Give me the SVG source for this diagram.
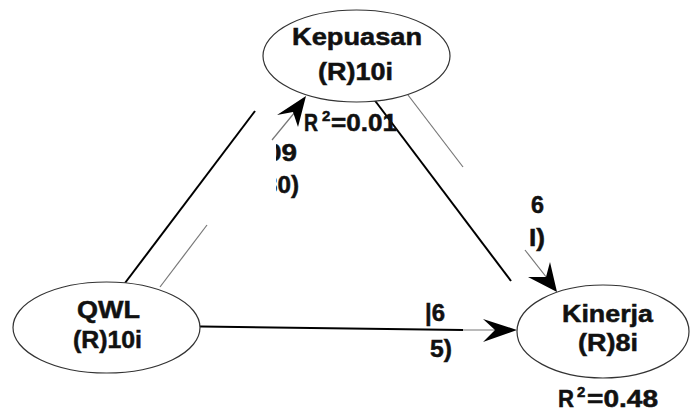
<svg xmlns="http://www.w3.org/2000/svg" width="690" height="412" viewBox="0 0 690 412">
<style>
.node{fill:#fff;stroke:#333;stroke-width:1.2}
.t{font-family:"Liberation Sans",Arial,sans-serif;font-weight:bold;font-size:24px;fill:#111;stroke:#111;stroke-width:0.5}
.sup{font-size:15px}
.blk{stroke:#000;stroke-width:2;fill:none}
.gry{stroke:#777;stroke-width:1.2;fill:none}
.ah{fill:#000;stroke:none}
</style>
<defs>
<clipPath id="c1"><rect x="276" y="130" width="40" height="80"/></clipPath>
</defs>
<rect width="690" height="412" fill="#fff"/>
<g id="connectors">
<line class="gry" x1="160" y1="287" x2="207" y2="225"/>
<line class="gry" x1="272" y1="140" x2="295" y2="112"/>
<polygon class="ah" points="306,96 277,115 293,112 298,127"/>
<line class="gry" x1="408" y1="95" x2="463" y2="167"/>
<line class="gry" x1="525" y1="250" x2="547" y2="278"/>
<polygon class="ah" points="557,292 528,277 546,277 550,262"/>
<line class="gry" x1="463" y1="330" x2="496" y2="330"/>
<polygon class="ah" points="517,330 483,319 495,330 483,342"/>
<line class="blk" x1="125" y1="283" x2="255" y2="111"/>
<line class="blk" x1="373" y1="98" x2="511" y2="281"/>
<line class="blk" x1="165" y1="326" x2="463" y2="330"/>
</g>
<g id="kepuasan">
<ellipse class="node" cx="356.5" cy="56" rx="93.5" ry="46"/>
<text class="t" x="292" y="45" textLength="130" lengthAdjust="spacingAndGlyphs">Kepuasan</text>
<text class="t" x="318" y="80" textLength="75" lengthAdjust="spacingAndGlyphs">(R)10i</text>
</g>
<g id="qwl">
<ellipse class="node" cx="106.5" cy="327.5" rx="93.5" ry="45.5"/>
<text class="t" x="77" y="318" textLength="63" lengthAdjust="spacingAndGlyphs">QWL</text>
<text class="t" x="73" y="348" textLength="69" lengthAdjust="spacingAndGlyphs">(R)10i</text>
</g>
<g id="kinerja">
<ellipse class="node" cx="603" cy="331.5" rx="86" ry="46.5"/>
<text class="t" x="562" y="322" textLength="91" lengthAdjust="spacingAndGlyphs">Kinerja</text>
<text class="t" x="578" y="351" textLength="60" lengthAdjust="spacingAndGlyphs">(R)8i</text>
</g>
<g id="labels">
<text class="t" y="131"><tspan x="304" textLength="14" lengthAdjust="spacingAndGlyphs">R</tspan><tspan class="sup" x="322" dy="-10">2</tspan><tspan x="331" dy="10" textLength="66" lengthAdjust="spacingAndGlyphs">=0.01</tspan></text>
<text class="t" y="407"><tspan x="558" textLength="16" lengthAdjust="spacingAndGlyphs">R</tspan><tspan class="sup" x="577" dy="-10">2</tspan><tspan x="587" dy="10" textLength="71" lengthAdjust="spacingAndGlyphs">=0.48</tspan></text>
<g clip-path="url(#c1)">
<text class="t" x="266" y="161" textLength="31" lengthAdjust="spacingAndGlyphs">09</text>
<text class="t" x="264" y="193" textLength="35" lengthAdjust="spacingAndGlyphs">30)</text>
</g>
<text class="t" x="531" y="213" textLength="13" lengthAdjust="spacingAndGlyphs">6</text>
<text class="t" x="529" y="246" textLength="16" lengthAdjust="spacingAndGlyphs">I)</text>
<text class="t" x="425" y="321" textLength="20" lengthAdjust="spacingAndGlyphs">|6</text>
<text class="t" x="430" y="357" textLength="22" lengthAdjust="spacingAndGlyphs">5)</text>
</g>
</svg>
